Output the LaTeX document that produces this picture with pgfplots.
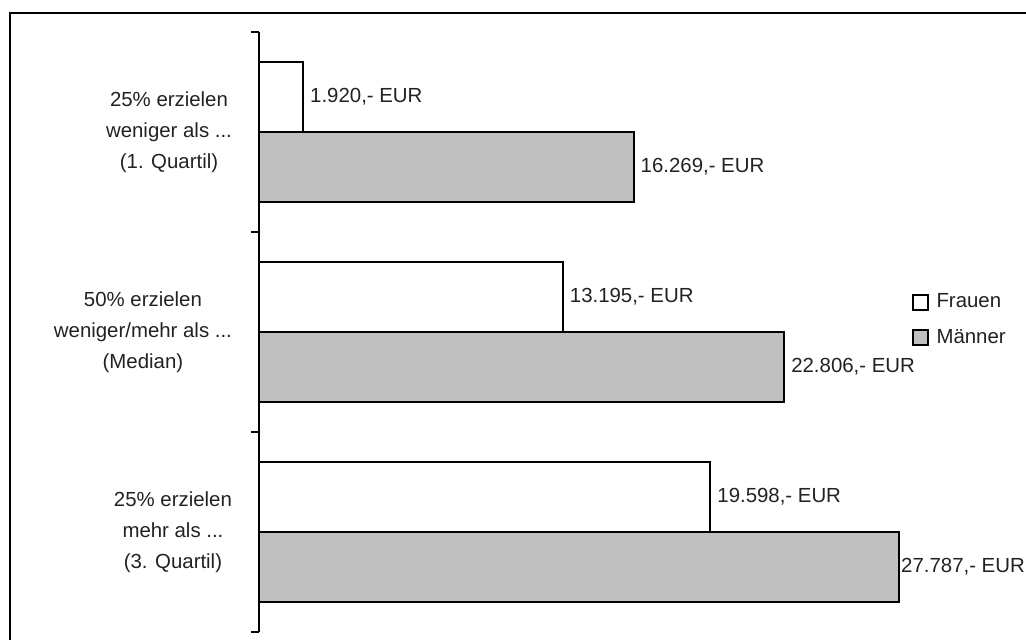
\documentclass[border=0pt]{standalone}
\usepackage{pgfplots}
\pgfplotsset{compat=1.18}
\usepackage{fontspec}
\setmainfont{Liberation Sans}
\definecolor{maennergrau}{RGB}{192,192,192}
\definecolor{textgrau}{RGB}{34,34,34}
\newcommand\pkt{...}
\newcommand\schrift{\fontsize{10.2pt}{15.5pt}\selectfont}

\begin{document}
\begin{tikzpicture}[x=1pt,y=1pt]
\useasboundingbox (0,0) rectangle (513,320);
% outer chart frame (runs off to the right and bottom)
\begin{scope}
  \clip (0,0) rectangle (513,320);
  \draw[line width=1pt] (5,313.5) rectangle (540,-20);
\end{scope}
\begin{axis}[
  at={(129.5pt,4pt)}, anchor=south west,
  scale only axis, width=345.5pt, height=300pt,
  xbar, bar width=0.35,
  xmin=0, xmax=30000,
  ymin=-0.5, ymax=2.5,
  axis x line=none,
  axis y line*=left,
  y axis line style={line width=0.6pt, -},
  ytick={0,1,2},
  yticklabels={{25\% erzielen\\mehr als \pkt\\(3. Quartil)},
               {50\% erzielen\\weniger/mehr als \pkt\\(Median)},
               {25\% erzielen\\weniger als \pkt\\(1. Quartil)}},
  yticklabel style={align=center, anchor=east, xshift=-10pt,
                    font=\schrift, text=textgrau},
  major tick length=0pt,
  extra y ticks={-0.5,0.5,1.5,2.5},
  extra y tick labels={},
  extra y tick style={tick align=outside, major tick length=4pt,
                      tick style={line width=0.6pt, black}},
  clip=false,
  nodes near coords,
  point meta=explicit symbolic,
  every node near coord/.append style={anchor=west, inner sep=3pt,
                      font=\schrift, text=textgrau},
  legend image code/.code={\draw[#1, line width=1pt] (0pt,-3.7pt) rectangle (7.4pt,3.7pt);},
  legend style={draw=none, fill=none, at={(0.944,0.52)}, anchor=west,
                font=\schrift, text=textgrau,
                row sep=5pt, inner sep=0pt},
  legend cell align=left,
]
% Frauen
\addplot[draw=black, line width=1pt, fill=white, bar shift=0.175]
  coordinates {
    (1920,2)  [{1.920,- EUR}]
    (13195,1) [{13.195,- EUR}]
    (19598,0) [{19.598,- EUR}]
  };
% Maenner
\addplot[draw=black, line width=1pt, fill=maennergrau, bar shift=-0.175]
  coordinates {
    (16269,2) [{16.269,- EUR}]
    (22806,1) [{22.806,- EUR}]
    (27787,0) [{\hspace{-2.4pt}27.787,- EUR}]
  };
\legend{\hspace{2pt}Frauen, \hspace{2pt}Männer}
\end{axis}
\end{tikzpicture}
\end{document}
